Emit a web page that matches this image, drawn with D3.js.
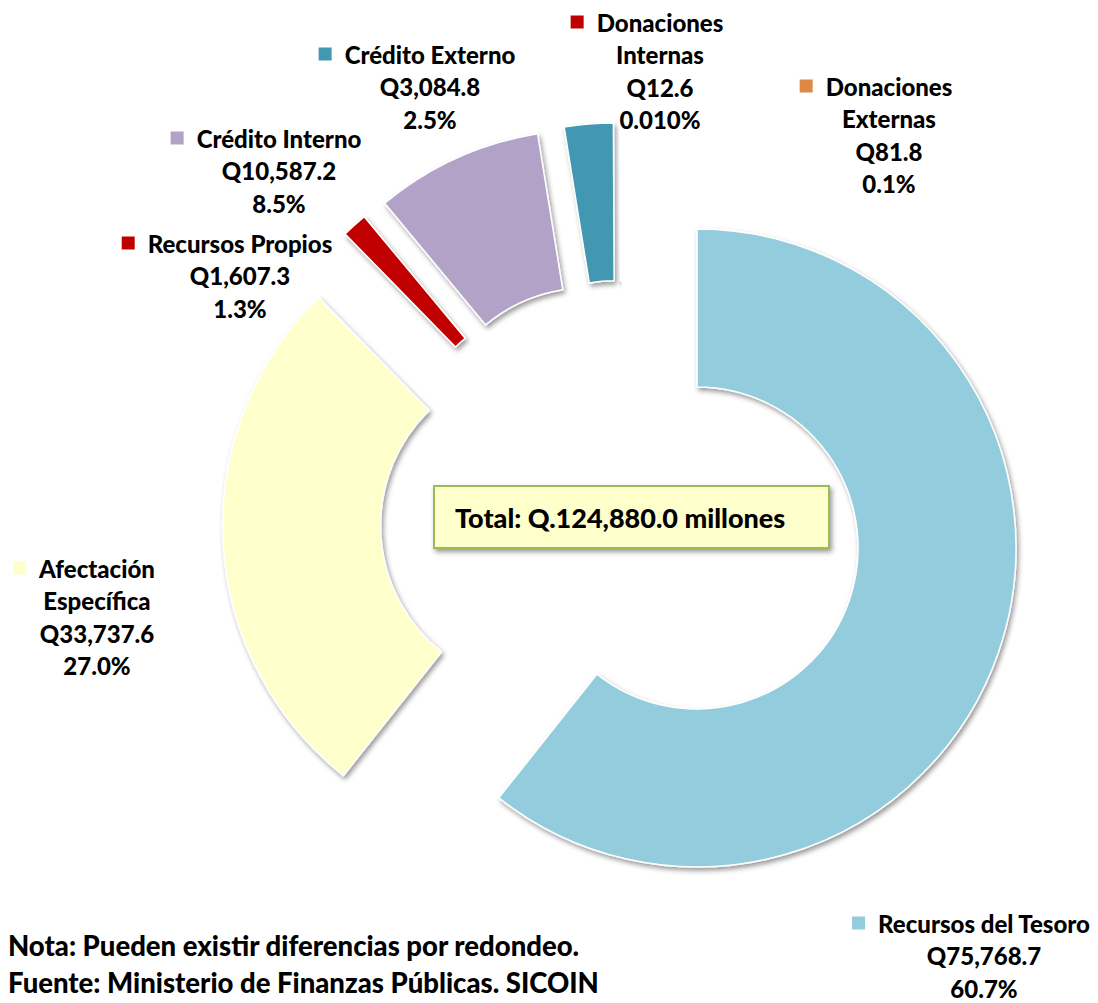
<!DOCTYPE html>
<html>
<head>
<meta charset="utf-8">
<script src="https://cdn.jsdelivr.net/npm/d3@7"></script>
<style>
  body { margin: 0; background: #fff; }
  svg { display: block; }
  text { font-family: Lato, "Open Sans", sans-serif; font-weight: 900; fill: #000; }
</style>
</head>
<body>
<div id="chart"></div>
<script>
// data
const categories = ["Recursos del Tesoro", "Afectación Específica", "Recursos Propios",
  "Crédito Interno", "Crédito Externo", "Donaciones Internas", "Donaciones Externas"];
const nameLines = [["Recursos del Tesoro"], ["Afectación", "Específica"], ["Recursos Propios"],
  ["Crédito Interno"], ["Crédito Externo"], ["Donaciones", "Internas"], ["Donaciones", "Externas"]];
const amounts = [75768.7, 33737.6, 1607.3, 10587.2, 3084.8, 12.6, 81.8];
const percentLabels = ["60.7%", "27.0%", "1.3%", "8.5%", "2.5%", "0.010%", "0.1%"];
const colors = ["#93cddd", "#ffffcc", "#c00000", "#b2a2c7", "#4298b0", "#c00000", "#dd8843"];
const notes = ["Nota: Pueden existir diferencias por redondeo.",
  "Fuente: Ministerio de Finanzas Públicas. SICOIN"];

// layout (label centre x, first line y) - where Excel put them
const labelPos = [[984, 923], [97, 568], [240, 243], [279, 138], [430, 54], [660, 22], [889, 86]];

const width = 1098, height = 1003;
const cx = 621.5, cy = 521.6;
const outerR = 319, innerR = 161, explode = 80;
const lineH = 32.5;

const svg = d3.select("#chart").append("svg")
  .attr("width", width)
  .attr("height", height);

const defs = svg.append("defs");
defs.append("filter")
  .attr("id", "shadow")
  .attr("x", "-20%").attr("y", "-20%")
  .attr("width", "140%").attr("height", "140%")
  .append("feDropShadow")
  .attr("dx", 2).attr("dy", 3)
  .attr("stdDeviation", 2.5)
  .attr("flood-color", "#000")
  .attr("flood-opacity", 0.4);

const pie = d3.pie().sort(null).value(d => d)
  .startAngle(0).endAngle(2 * Math.PI);
const arc = d3.arc().innerRadius(innerR).outerRadius(outerR);
const arcs = pie(amounts);

// exploded donut slices
svg.append("g")
  .attr("transform", `translate(${cx},${cy})`)
  .selectAll("path")
  .data(arcs)
  .enter()
  .append("path")
  .attr("d", arc)
  .attr("fill", (d, i) => colors[i])
  .attr("stroke", "#fff")
  .attr("stroke-width", 1.5)
  .attr("filter", "url(#shadow)")
  .attr("transform", d => {
    const m = (d.startAngle + d.endAngle) / 2;
    return `translate(${explode * Math.sin(m)},${-explode * Math.cos(m)})`;
  });

// data labels
const fmt = d3.format(",.1f");
const labels = svg.append("g").selectAll("g.label")
  .data(categories)
  .enter()
  .append("g")
  .attr("class", "label")
  .attr("transform", (d, i) => `translate(${labelPos[i][0]},${labelPos[i][1]})`);

labels.each(function (name, i) {
  const g = d3.select(this);
  const lines = nameLines[i].concat(["Q" + fmt(amounts[i]), percentLabels[i]]);
  lines.forEach((t, j) => {
    g.append("text")
      .attr("x", 0)
      .attr("y", j * lineH)
      .attr("text-anchor", "middle")
      .attr("dominant-baseline", "central")
      .style("font-size", "24px")
      .text(t);
  });
  const w = g.select("text").node().getComputedTextLength();
  g.append("rect")
    .attr("x", -w / 2 - 13 - 13)
    .attr("y", -6.5)
    .attr("width", 13)
    .attr("height", 13)
    .attr("fill", colors[i]);
});

// total box
const total = d3.sum(amounts);
svg.append("rect")
  .attr("x", 434).attr("y", 486)
  .attr("width", 395).attr("height", 62)
  .attr("fill", "#ffffcc")
  .attr("stroke", "#9bbb59")
  .attr("stroke-width", 2)
  .attr("filter", "url(#shadow)");
svg.append("text")
  .attr("x", 455).attr("y", 517)
  .attr("dominant-baseline", "central")
  .style("font-size", "27px")
  .text(`Total: Q.${fmt(total)} millones`);

// notes
svg.append("g").selectAll("text")
  .data(notes)
  .enter()
  .append("text")
  .attr("x", 8)
  .attr("y", (d, i) => 945 + i * 37)
  .attr("dominant-baseline", "central")
  .style("font-size", "27.5px")
  .text(d => d);
</script>
</body>
</html>
